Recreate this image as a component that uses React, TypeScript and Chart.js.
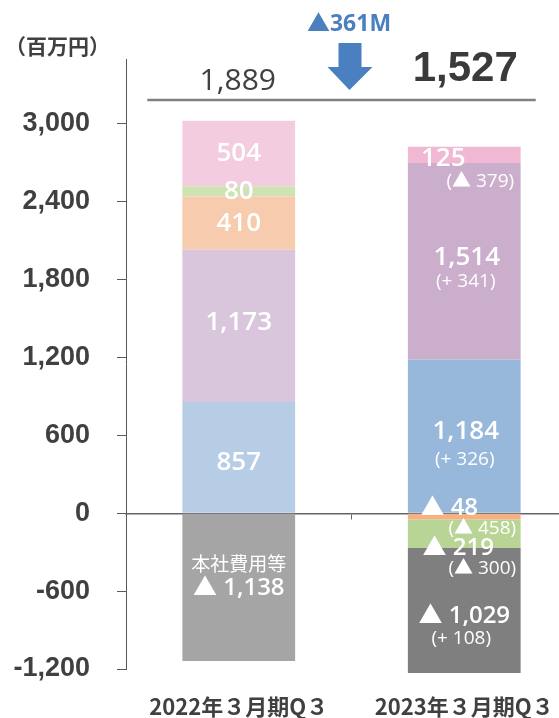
import React, { useEffect, useRef } from "react";
import { Chart, registerables } from "chart.js";

Chart.register(...registerables);

// ---- data ----
const categories = ["2022年３月期Q３", "2023年３月期Q３"];
const segmentBlue = [857, 1184];
const segmentPurple = [1173, 1514];
const segmentPeach = [410, -48];
const segmentGreen = [80, -219];
const segmentPink = [504, 125];
const headOfficeCosts = [-1138, -1029];
const deltaBlue = [null, 326];
const deltaPurple = [null, 341];
const deltaPeach = [null, -458];
const deltaGreen = [null, -300];
const deltaPink = [null, -379];
const deltaHeadOffice = [null, 108];
const netTotals = [1889, 1527];
const netChangeM = -361;
const yTickValues = [-1200, -600, 0, 600, 1200, 1800, 2400, 3000];
const headOfficeLabel = "本社費用等";
const unitLabel = "（百万円）";

const fmt = (n: number) => n.toLocaleString("en-US");
const mainText = (v: number) => (v >= 0 ? fmt(v) : "▲ " + fmt(-v));
const subText = (d: number) => (d >= 0 ? `(+ ${fmt(d)})` : `(▲ ${fmt(-d)})`);

export default function App() {
  const ref = useRef<HTMLCanvasElement>(null);

  useEffect(() => {
    const canvas = ref.current!;
    const series = [
      { name: "A", values: segmentBlue, deltas: deltaBlue, colors: ["#b7cde5", "#97b8da"] },
      { name: "B", values: segmentPurple, deltas: deltaPurple, colors: ["#d9c6dc", "#cbaecc"] },
      { name: "C", values: segmentPeach, deltas: deltaPeach, colors: ["#f7cbad", "#f4b183"] },
      { name: "D", values: segmentGreen, deltas: deltaGreen, colors: ["#cfe2b3", "#b8d595"] },
      { name: "E", values: segmentPink, deltas: deltaPink, colors: ["#f4cce0", "#f0b8d3"] },
      { name: headOfficeLabel, values: headOfficeCosts, deltas: deltaHeadOffice, colors: ["#a5a5a5", "#7f7f7f"] },
    ];

    // label placement (style): offsets from segment centre
    const pos: any[][] = [
      [{ dy: 5, size: 26 }, { dx: 1.5, dy: -5, sdx: 0.5, sdy: 23, size: 26 }],
      [{ dy: -3, size: 26 }, { dx: 2.5, dy: -4, sdx: 1.5, sdy: 20, size: 26 }],
      [{ dy: 0, size: 26 }, { dx: -15, dy: -8, sdx: 18, sdy: 12, size: 24 }],
      [{ dy: 0, size: 26 }, { dx: -6, dy: 14, sdx: 18, sdy: 35, size: 24 }],
      [{ dy: 0, size: 26 }, { dx: -21, dy: 4, sdx: 16, sdy: 27, size: 26 }],
      [{ dy: 1, size: 24, head: -24 }, { dx: 0, dy: 1.5, sdx: -3, sdy: 24, size: 24 }],
    ];

    const numFont = "'Open Sans', 'Noto Sans CJK JP'";

    const labelPlugin = {
      id: "segLabels",
      afterDatasetsDraw(chart: any) {
        const ctx = chart.ctx;
        ctx.save();
        ctx.fillStyle = "#ffffff";
        ctx.textAlign = "center";
        ctx.textBaseline = "middle";
        series.forEach((s, i) => {
          const meta = chart.getDatasetMeta(i);
          meta.data.forEach((el: any, j: number) => {
            const p = pos[i][j];
            const cx = el.x;
            const cy = (el.y + el.base) / 2;
            if (p.head !== undefined) {
              ctx.font = "19px 'Noto Sans CJK JP'";
              ctx.fillText(s.name, cx, cy + p.head);
            }
            ctx.font = `600 ${p.size}px ${numFont}`;
            ctx.fillText(mainText(s.values[j]), cx + (p.dx || 0), cy + (p.dy || 0));
            const d = s.deltas[j];
            if (d !== null && d !== undefined) {
              ctx.font = `19px ${numFont}`;
              ctx.fillText(subText(d), cx + (p.sdx || 0), cy + (p.sdy || 0));
            }
          });
        });
        ctx.restore();
      },
    };

    const annotPlugin = {
      id: "annot",
      afterDraw(chart: any) {
        const ctx = chart.ctx;
        const xs = chart.scales.x;
        const x0 = xs.getPixelForValue(0);
        const x1 = xs.getPixelForValue(1);
        const xm = (x0 + x1) / 2;
        ctx.save();
        // unit
        ctx.fillStyle = "#404040";
        ctx.textAlign = "left";
        ctx.textBaseline = "middle";
        ctx.font = "bold 21px 'Noto Sans CJK JP'";
        ctx.fillText(unitLabel, 5, 46);
        // totals line
        ctx.strokeStyle = "#808080";
        ctx.lineWidth = 2.5;
        ctx.beginPath();
        ctx.moveTo(x0 - 91.5, 100);
        ctx.lineTo(x1 + 71.5, 100);
        ctx.stroke();
        // totals
        ctx.textAlign = "center";
        ctx.fillStyle = "#404040";
        ctx.font = "30px 'Open Sans'";
        ctx.fillText(fmt(netTotals[0]), x0 - 1, 81);
        ctx.fillStyle = "#3a3a3a";
        ctx.font = "bold 42px 'Liberation Sans'";
        ctx.fillText(fmt(netTotals[1]), x1 + 1, 69);
        // change
        ctx.fillStyle = "#4a7fc0";
        ctx.font = "bold 23px 'Noto Sans', 'Noto Sans CJK JP'";
        ctx.fillText((netChangeM < 0 ? "▲" : "+") + fmt(Math.abs(netChangeM)) + "M", xm - 2.5, 24);
        // arrow
        ctx.beginPath();
        ctx.moveTo(xm - 13, 43);
        ctx.lineTo(xm + 10, 43);
        ctx.lineTo(xm + 10, 67);
        ctx.lineTo(xm + 21, 67);
        ctx.lineTo(xm - 2, 90);
        ctx.lineTo(xm - 24, 67);
        ctx.lineTo(xm - 13, 67);
        ctx.closePath();
        ctx.fill();
        ctx.restore();
      },
    };

    const chart = new Chart(canvas, {
      type: "bar",
      data: {
        labels: categories,
        datasets: series.map((s, i) => ({
          label: s.name,
          data: s.values,
          backgroundColor: s.colors,
          borderWidth: 0,
          xAxisID: "x",
          yAxisID: "y",
          barPercentage: 0.5,
          categoryPercentage: 1,
          clip: i === 5 ? { left: 0, right: 0, top: 0, bottom: 4 } : undefined,
        })) as any,
      },
      options: {
        responsive: false,
        animation: false,
        devicePixelRatio: 1,
        layout: { padding: { top: 59, right: 23, left: 0, bottom: 0 } },
        plugins: { legend: { display: false }, tooltip: { enabled: false } },
        scales: {
          x: {
            type: "category",
            position: { y: 0 } as any,
            stacked: true,
            offset: true,
            grid: {
              display: true,
              offset: true,
              drawOnChartArea: false,
              drawTicks: true,
              tickLength: 5,
              color: "#666666",
              lineWidth: 1,
            },
            border: { display: true, color: "#666666", width: 1.5 },
            ticks: { display: false },
          },
          xb: {
            type: "category",
            axis: "x",
            position: "bottom",
            offset: true,
            grid: { display: false, drawTicks: false },
            border: { display: false },
            ticks: {
              padding: 24,
              color: "#404040",
              maxRotation: 0,
              autoSkip: false,
              font: { family: "'Noto Sans CJK JP'", size: 22, weight: "bold" },
            },
            afterFit: (s: any) => {
              s.height = 49;
            },
          } as any,
          y: {
            type: "linear",
            position: "left",
            stacked: true,
            min: -1200,
            max: 3500,
            afterBuildTicks: (s: any) => {
              s.ticks = yTickValues.map((v) => ({ value: v }));
            },
            afterFit: (s: any) => {
              s.width = 126;
            },
            grid: {
              display: true,
              drawOnChartArea: false,
              drawTicks: true,
              tickLength: 9,
              color: "#595959",
            },
            border: { display: true, color: "#595959", width: 1 },
            ticks: {
              padding: 27,
              color: "#404040",
              font: { family: "'Liberation Sans'", size: 27, weight: "bold" },
              callback: (v: any) => fmt(Number(v)),
            },
          },
        },
      },
      plugins: [labelPlugin, annotPlugin],
    } as any);

    return () => chart.destroy();
  }, []);

  return (
    <div
      style={{
        position: "fixed",
        left: 0,
        top: 0,
        width: 559,
        height: 718,
        overflow: "hidden",
        background: "#ffffff",
      }}
    >
      <canvas ref={ref} width={600} height={718} style={{ display: "block", width: 600, height: 718 }} />
    </div>
  );
}
